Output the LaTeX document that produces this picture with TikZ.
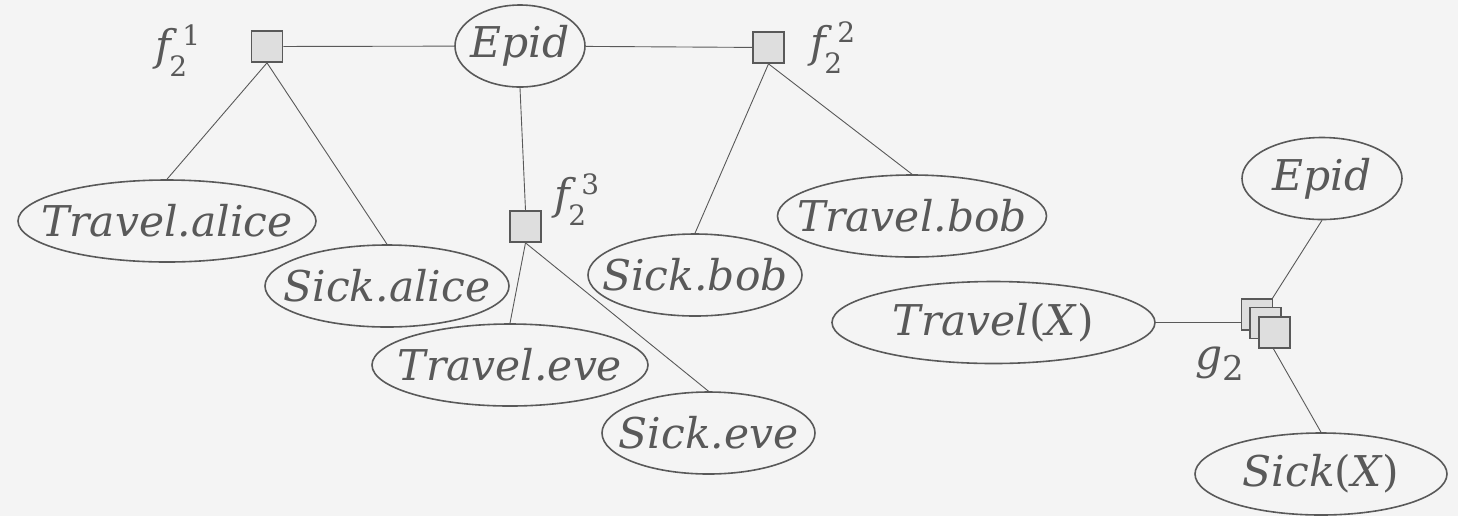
\documentclass[tikz,border=0pt]{standalone}
\usepackage{fontspec}
\setmainfont{DejaVu Serif}
\usetikzlibrary{shapes.geometric}
\definecolor{bgc}{HTML}{F4F4F4}
\definecolor{ink}{HTML}{595959}
\definecolor{boxfill}{HTML}{DEDEDE}
% variable name set in a zero-width box, so the ellipse keeps its given size
\newcommand{\vn}[1]{\makebox[0pt]{#1}}
\newcommand{\up}[1]{\textup{#1}}
% factor label: letter with upright subscript and superscript
\newcommand{\fsym}[3]{#1\kern-1pt\rlap{\raisebox{-8pt}{\fontsize{14}{14}\selectfont\upshape #2}}\kern6.5pt\raisebox{7.5pt}{\fontsize{14}{14}\selectfont\upshape #3}}
\begin{document}
\begin{tikzpicture}[x=0.5pt,y=-0.5pt,
  var/.style={ellipse, draw=ink, line width=0.8pt, inner sep=0pt,
    minimum height=41pt, text=ink,
    font=\fontsize{21.2}{24}\selectfont\itshape},
  factor/.style={rectangle, draw=ink, fill=boxfill, line width=0.85pt,
    minimum size=15.5pt, inner sep=0pt},
  flabel/.style={inner sep=0pt, text=ink,
    font=\fontsize{21.2}{24}\selectfont\itshape},
  link/.style={draw=ink, line width=0.45pt}]

% canvas
\fill[bgc] (0,0) rectangle (1458,516);
\useasboundingbox (0,0) rectangle (1458,516);

% ground factor graph
\node[var, minimum width=65pt] (ep1) at (520,46) {\vn{Epid}};
\node[factor] (f1) at (267,46.5) {};
\node[factor] (f2) at (768.5,47.5) {};
\node[factor] (f3) at (525.5,226.5) {};
\node[flabel] (l1) at (178,51) {\fsym{f}{2}{1}};
\node[flabel] (l2) at (833,48) {\fsym{f}{2}{2}};
\node[flabel] (l3) at (577,200) {\fsym{f}{2}{3}};

\node[var, minimum width=149pt] (ta) at (167,221) {\vn{Travel.alice}};
\node[var, minimum width=122pt] (sa) at (387,286) {\vn{Sick.alice}};
\node[var, minimum width=138pt] (te) at (510,365) {\vn{Travel.eve}};
\node[var, minimum width=106.5pt] (se) at (708.5,433) {\vn{Sick.eve}};
\node[var, minimum width=107pt] (sb) at (695,275) {\vn{Sick.bob}};
\node[var, minimum width=134.5pt] (tb) at (912,216) {\vn{Travel.bob}};

\draw[link] (f1) -- (ep1);
\draw[link] (ep1) -- (f2);
\draw[link] (ep1.south) -- (f3.north);
\draw[link] (f1.south) -- (ta.north);
\draw[link] (f1.south) -- (sa.north);
\draw[link] (f2.south) -- (sb.north);
\draw[link] (f2.south) -- (tb.north);
\draw[link] (f3.south) -- (te.north);
\draw[link] (f3.south) -- (se.north);

% lifted (parfactor) graph
\node[var, minimum width=80pt] (ep2) at (1322,178.5) {\vn{Epid}};
\node[var, minimum width=161.5pt] (tx) at (993.5,322.5) {\vn{Travel\up{(}X\up{)}}};
\node[var, minimum width=126pt] (sx) at (1321,474) {\vn{Sick\up{(}X\up{)}}};

\draw[link] (tx.east) -- (tx.east -| 1242,0);
\draw[link] (ep2.south) -- (1272,299);
\draw[link] (sx.north) -- (1273,348);

\node[factor] (g1) at (1257,314.5) {};
\node[factor] (g2) at (1265.5,323) {};
\node[factor] (g3) at (1274.5,332.5) {};
\node[flabel, anchor=base west] (lg) at (1195,369) {g\raisebox{-5.5pt}{\fontsize{17}{17}\selectfont\upshape 2}};
\end{tikzpicture}
\end{document}
